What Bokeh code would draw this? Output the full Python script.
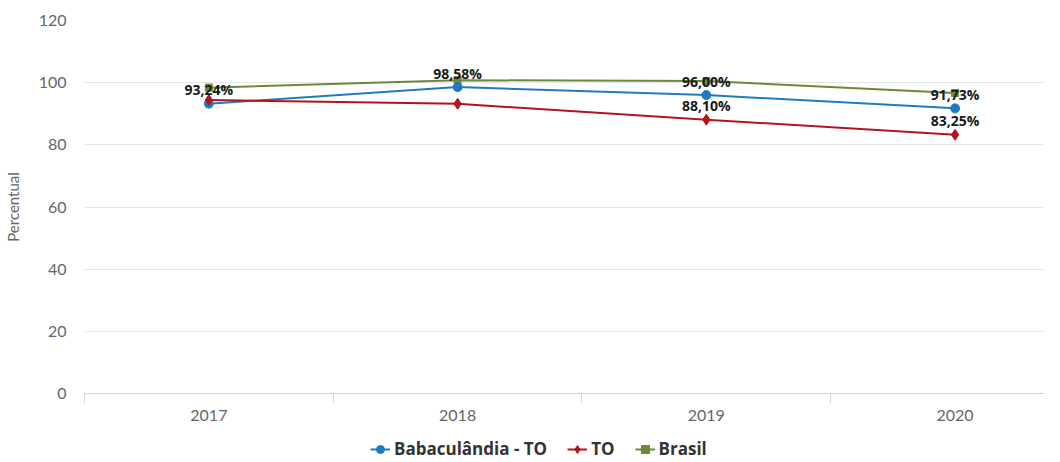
from bokeh.plotting import figure
from bokeh.layouts import column
from bokeh.models import ColumnDataSource, FixedTicker, Legend, LegendItem, LabelSet, Range1d
from bokeh.core.properties import value
from bokeh.embed import file_html
from bokeh.resources import INLINE

years = ["2017", "2018", "2019", "2020"]
babaculandia = [93.24, 98.58, 96.00, 91.73]
to_vals = [94.4, 93.2, 88.10, 83.25]
brasil = [98.4, 100.8, 100.5, 96.7]
y_ticks = [0, 20, 40, 60, 80, 100, 120]
series_names = ["Babaculândia - TO", "TO", "Brasil"]

# which data labels are visible in the reference
show_babac = [True, True, True, True]
show_to = [False, False, True, True]

FONT = "Lato"
LFONT = "Open Sans"
BLUE = "#1f7bbf"
RED = "#b3131d"
GREEN = "#6a8a3a"

x = list(range(len(years)))

W = 1044
LEFT = 83
frame_w = W - LEFT
x_end = frame_w / 249.0 - 0.5

p = figure(width=W, height=436, output_backend="svg", toolbar_location=None,
           x_range=Range1d(-0.5, x_end), y_range=Range1d(0, 120),
           min_border_left=LEFT, min_border_right=0, min_border_top=20, min_border_bottom=43)
p.outline_line_color = None
p.background_fill_color = "white"

# axes
p.xaxis.ticker = FixedTicker(ticks=x, minor_ticks=[i - 0.5 for i in range(len(years) + 1)])
p.xaxis.major_label_overrides = {i: y for i, y in enumerate(years)}
p.xaxis.major_tick_out = 0
p.xaxis.major_tick_in = 0
p.xaxis.minor_tick_out = 10
p.xaxis.minor_tick_in = 0
p.xaxis.minor_tick_line_color = "#ccd6eb"
p.xaxis.axis_line_color = "#ccd6eb"
p.xaxis.major_label_standoff = 6
p.xaxis.major_label_text_font = FONT
p.xaxis.major_label_text_font_size = "16px"
p.xaxis.major_label_text_color = "#666666"

p.yaxis.ticker = FixedTicker(ticks=y_ticks)
p.yaxis.axis_line_color = None
p.yaxis.major_tick_line_color = None
p.yaxis.minor_tick_line_color = None
p.yaxis.major_label_standoff = 12
p.yaxis.major_label_text_font = FONT
p.yaxis.major_label_text_font_size = "16px"
p.yaxis.major_label_text_color = "#666666"
p.yaxis.axis_label = "Percentual"
p.yaxis.axis_label_text_font = FONT
p.yaxis.axis_label_text_font_style = "normal"
p.yaxis.axis_label_text_font_size = "15px"
p.yaxis.axis_label_text_color = "#666666"
p.yaxis.axis_label_standoff = 14

p.xgrid.visible = False
p.ygrid.ticker = FixedTicker(ticks=y_ticks)
p.ygrid.grid_line_color = "#e6e6e6"

src = ColumnDataSource(dict(x=x, b=babaculandia, t=to_vals, br=brasil))

p.line("x", "br", source=src, line_color=GREEN, line_width=2)
p.scatter("x", "br", source=src, marker="square", size=7, fill_color=GREEN, line_color=GREEN)
p.line("x", "b", source=src, line_color=BLUE, line_width=2)
p.scatter("x", "b", source=src, marker="circle", size=9, fill_color=BLUE, line_color=BLUE)
p.line("x", "t", source=src, line_color=RED, line_width=2)
p.scatter("x", "t", source=src, marker="diamond", size=11, fill_color=RED, line_color=RED)

def fmt(v):
    return ("%.2f" % v).replace(".", ",") + "%"

lx, ly, lt = [], [], []
for i in x:
    if show_babac[i]:
        lx.append(i); ly.append(babaculandia[i]); lt.append(fmt(babaculandia[i]))
    if show_to[i]:
        lx.append(i); ly.append(to_vals[i]); lt.append(fmt(to_vals[i]))
lsrc = ColumnDataSource(dict(x=lx, y=ly, text=lt))
labels = LabelSet(x="x", y="y", text="text", source=lsrc, y_offset=14,
                  text_align="center", text_baseline="middle",
                  text_font=value(LFONT), text_font_size=value("14px"), text_font_style=value("bold"),
                  text_color=value("#1a1a1a"))
p.add_layout(labels)

# legend in a small strip below the chart
pl = figure(width=W, height=25, output_backend="svg", toolbar_location=None,
            x_range=Range1d(0, 1), y_range=Range1d(0, 1),
            min_border_left=0, min_border_right=0, min_border_top=0, min_border_bottom=0)
pl.axis.visible = False
pl.grid.visible = False
pl.outline_line_color = None
items = []
for name, col, mk, sz in zip(series_names, [BLUE, RED, GREEN], ["circle", "diamond", "square"], [8, 10, 7]):
    # placeholder renderers (outside the visible range) only used to draw legend glyphs
    lr = pl.line(x=[5, 6], y=[5, 6], line_color=col, line_width=2)
    mr = pl.scatter(x=[5], y=[5], marker=mk, size=sz, fill_color=col, line_color=col)
    items.append(LegendItem(label=name, renderers=[lr, mr]))
legend = Legend(items=items, orientation="horizontal", location=(286, 1),
                padding=0, margin=0, spacing=20, glyph_width=20, glyph_height=22, label_height=22,
                label_standoff=4, label_text_font=LFONT, label_text_font_size="17px",
                label_text_font_style="bold", label_text_color="#333333",
                border_line_color=None, background_fill_alpha=0)
pl.add_layout(legend, "center")

open("out.html", "w").write(file_html(column(p, pl), INLINE))
